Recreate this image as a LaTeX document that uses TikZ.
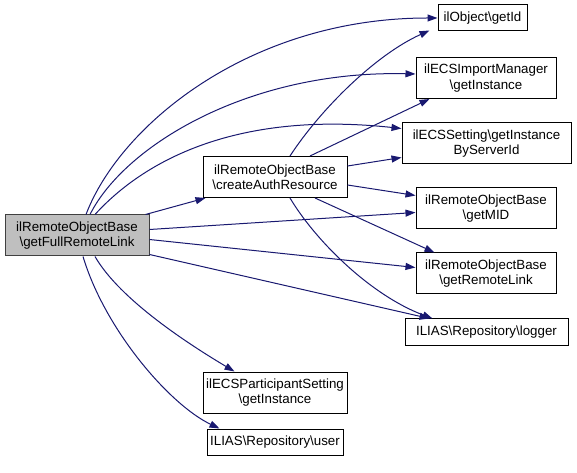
\documentclass[tikz,border=0pt]{standalone}
\usepackage{fontspec}
\setmainfont{Liberation Sans}
\usetikzlibrary{arrows.meta,calc}
\definecolor{edgeblue}{HTML}{191970}
\definecolor{mainfill}{HTML}{BFBFBF}
\definecolor{mainborder}{HTML}{404040}
\begin{document}
\begin{tikzpicture}[x=0.75pt,y=-0.75pt,
  box/.style={draw=black, fill=white, line width=0.75pt, inner sep=0pt, align=center,
    font=\fontsize{10}{11.5}\selectfont},
  twoline/.style={minimum height=30.75pt},
  oneline/.style={minimum height=19.5pt},
  mainbox/.style={box, fill=mainfill, draw=mainborder},
  edge/.style={draw=edgeblue, line width=0.75pt, -{Triangle[length=7.5pt,width=5.25pt]}, fill=none}
]
\useasboundingbox (0,0) rectangle (577,473);

\node[mainbox, twoline, minimum width=108pt] (main) at (77,235.5) {ilRemoteObjectBase\\\textbackslash getFullRemoteLink};
\node[box, twoline, minimum width=108pt] (create) at (275,177) {ilRemoteObjectBase\\\textbackslash createAuthResource};
\node[box, oneline, minimum width=66.75pt] (getId) at (482.5,18) {ilObject\textbackslash getId};
\node[box, twoline, minimum width=105pt] (importMgr) at (486,78) {ilECSImportManager\\\textbackslash getInstance};
\node[box, twoline, minimum width=126.75pt] (ecsSetting) at (486.5,143.5) {ilECSSetting\textbackslash getInstance\\ByServerId};
\node[box, twoline, minimum width=105pt] (getMID) at (486,208.5) {ilRemoteObjectBase\\\textbackslash getMID};
\node[box, twoline, minimum width=105pt] (getRemoteLink) at (486,273.5) {ilRemoteObjectBase\\\textbackslash getRemoteLink};
\node[box, oneline, minimum width=122.25pt] (logger) at (486.5,332) {ILIAS\textbackslash Repository\textbackslash logger};
\node[box, twoline, minimum width=108pt] (participant) at (275,392.5) {ilECSParticipantSetting\\\textbackslash getInstance};
\node[box, oneline, minimum width=102pt] (user) at (275,442) {ILIAS\textbackslash Repository\textbackslash user};

% edges from main
\draw[edge] ($(main.north)+(9,0)$) .. controls (120,125) and (250,18) .. (getId.west);
\draw[edge] ($(main.north)+(13,0)$) .. controls (125,145) and (250,70) .. ($(importMgr.west)+(0,-4)$);
\draw[edge] ($(main.north)+(18,0)$) .. controls (140,165) and (230,110) .. ($(ecsSetting.west)+(0,-15)$);
\draw[edge] ($(main.north east)+(-4,0)$) -- ($(create.south west)+(3,0)$);
\draw[edge] ($(main.east)+(0,-6)$) -- ($(getMID.west)+(0,4)$);
\draw[edge] ($(main.east)+(0,4)$) -- ($(getRemoteLink.west)+(0,-6)$);
\draw[edge] ($(main.south east)+(0,-2)$) -- ($(logger.north west)+(25,0)$);
\draw[edge] ($(main.south)+(18,0)$) .. controls (120,300) and (190,345) .. ($(participant.north west)+(32,0)$);
\draw[edge] ($(main.south)+(6,0)$) .. controls (105,330) and (170,405) .. ($(user.north west)+(13,0)$);

% edges from create
\draw[edge] ($(create.north)+(15,0)$) .. controls (320,110) and (375,55) .. ($(getId.south west)+(-8,-1)$);
\draw[edge] ($(create.north)+(35,0)$) -- ($(importMgr.south west)+(14,0)$);
\draw[edge] ($(create.east)+(0,-11)$) -- ($(ecsSetting.west)+(0,14)$);
\draw[edge] ($(create.east)+(0,8)$) -- ($(getMID.west)+(0,-13)$);
\draw[edge] ($(create.south)+(40,0)$) -- ($(getRemoteLink.north west)+(19,0)$);
\draw[edge] ($(create.south)+(15,0)$) .. controls (315,240) and (370,295) .. ($(logger.north west)+(28,0)$);
\end{tikzpicture}
\end{document}
